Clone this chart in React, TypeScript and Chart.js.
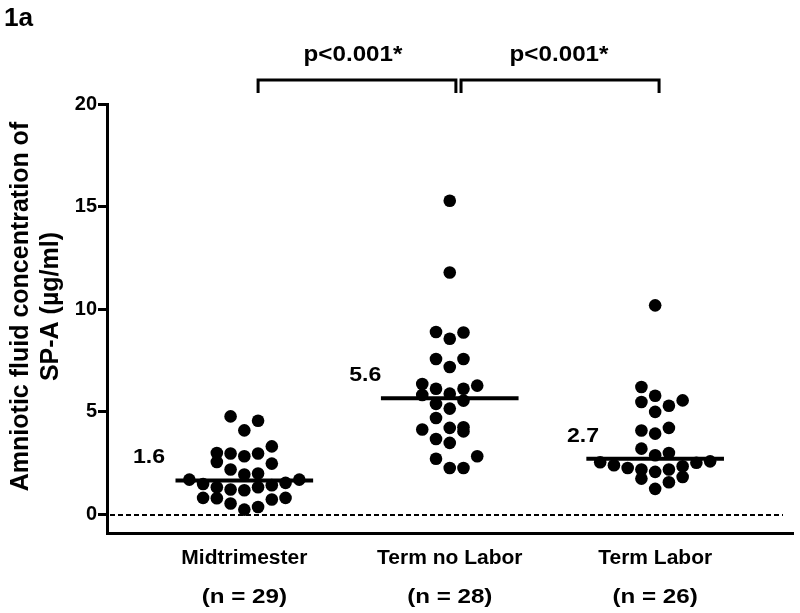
import React, { useEffect, useRef } from 'react';
import { Chart, registerables } from 'chart.js';

Chart.register(...registerables);

// ---------- data ----------
const CATEGORIES = ['Midtrimester', 'Term no Labor', 'Term Labor'];
const N_LABELS = ['(n = 29)', '(n = 28)', '(n = 26)'];
const MIDTRIMESTER = [4.78, 4.57, 4.10, 3.32, 3.0, 2.97, 2.84, 2.97, 2.56, 2.48, 2.19, 1.95, 2.0, 1.70, 1.70, 1.49, 1.33, 1.22, 1.18, 1.33, 1.43, 1.54, 0.81, 0.81, 0.54, 0.24, 0.37, 0.73, 0.79];
const TERM_NO_LABOR = [15.29, 11.79, 8.89, 8.56, 8.87, 7.58, 7.19, 7.58, 6.36, 6.13, 5.89, 6.13, 6.28, 5.82, 5.39, 5.55, 5.16, 4.70, 4.14, 4.22, 4.25, 4.05, 3.68, 3.49, 2.72, 2.84, 2.27, 2.27];
const TERM_LABOR = [10.19, 6.21, 5.79, 5.48, 5.56, 5.30, 5.0, 4.09, 3.94, 4.22, 3.21, 2.89, 3.0, 2.55, 2.40, 2.27, 2.19, 2.08, 2.19, 2.35, 2.52, 2.59, 1.75, 1.57, 1.83, 1.25];
const MEDIANS = [1.66, 5.66, 2.72];
const MEDIAN_LABELS = ['1.6', '5.6', '2.7'];
const Y_TICKS = [0, 5, 10, 15, 20];
const P_LABELS = ['p<0.001*', 'p<0.001*'];
const Y_TITLE = ['Amniotic fluid concentration of', 'SP-A (\u00B5g/ml)'];
const PANEL_LABEL = '1a';

// ---------- layout constants ----------
const FONT = "'Liberation Sans', Arial, Helvetica, sans-serif";
const X_MIN = 0.3315;
const X_MAX = 3.671;
const STEP = 0.0669;      // horizontal spacing between swarm columns (x units)
const ROW_H = 0.7;        // value band that forms one swarm row (y units)
const MEDIAN_HALF = 0.335;
const MEDIAN_LABEL_RIGHT = [0.614, 1.667, 2.727];
const BRACKETS = [[1.067, 2.030], [2.055, 3.019]];
const P_LABEL_X = [1.529, 2.532];

// Prism-like scatter-dot layout: rows of close values, spread alternately from the centre
function swarm(values: number[], center: number) {
  const sorted = [...values].sort((a, b) => a - b);
  const pts: { x: number; y: number }[] = [];
  let i = 0;
  let row = 0;
  while (i < sorted.length) {
    const start = sorted[i];
    const rowVals: number[] = [];
    while (i < sorted.length && sorted[i] < start + ROW_H) {
      rowVals.push(sorted[i]);
      i++;
    }
    const sign = row % 2 === 0 ? 1 : -1;
    rowVals.forEach((v, k) => {
      const mag = Math.ceil(k / 2);
      const side = k === 0 ? 0 : k % 2 === 1 ? sign : -sign;
      pts.push({ x: center + side * mag * STEP, y: v });
    });
    row++;
  }
  return pts;
}

function drawText(ctx: CanvasRenderingContext2D, s: string, x: number, y: number, size: number, align: CanvasTextAlign, sx = 1) {
  ctx.save();
  ctx.font = `bold ${size}px ${FONT}`;
  ctx.textAlign = align;
  ctx.textBaseline = 'alphabetic';
  ctx.fillStyle = '#000';
  ctx.translate(x, y);
  ctx.scale(sx, 1);
  ctx.fillText(s, 0, 0);
  ctx.restore();
}

const annotPlugin = {
  id: 'annot',
  beforeDatasetsDraw(chart: any) {
    const { ctx, chartArea, scales } = chart;
    const py = Math.round(scales.y.getPixelForValue(0));
    ctx.save();
    ctx.strokeStyle = '#000';
    ctx.lineWidth = 2;
    ctx.setLineDash([5, 3]);
    ctx.beginPath();
    ctx.moveTo(chartArea.left + 3, py);
    ctx.lineTo(chartArea.right - 10, py);
    ctx.stroke();
    ctx.restore();
  },
  afterDraw(chart: any) {
    const { ctx, chartArea, scales } = chart;
    const xs = scales.x;
    const ys = scales.y;

    // panel label
    drawText(ctx, PANEL_LABEL, 4, 26, 25, 'left', 1.05);

    // brackets + p-values
    const by = chartArea.top - 24;
    ctx.save();
    ctx.strokeStyle = '#000';
    ctx.lineWidth = 3;
    ctx.lineCap = 'butt';
    BRACKETS.forEach(([a, b]) => {
      const xa = xs.getPixelForValue(a);
      const xb = xs.getPixelForValue(b);
      ctx.beginPath();
      ctx.moveTo(xa, by + 13);
      ctx.lineTo(xa, by);
      ctx.lineTo(xb, by);
      ctx.lineTo(xb, by + 13);
      ctx.stroke();
    });
    ctx.restore();
    P_LABELS.forEach((p, i) => {
      drawText(ctx, p, xs.getPixelForValue(P_LABEL_X[i]), 61, 22, 'center', 1.1);
    });

    // median labels
    MEDIAN_LABELS.forEach((m, i) => {
      drawText(ctx, m, xs.getPixelForValue(MEDIAN_LABEL_RIGHT[i]), ys.getPixelForValue(MEDIANS[i]) - 17, 21, 'right', 1.1);
    });

    // category labels
    CATEGORIES.forEach((c, i) => {
      const cx = xs.getPixelForValue(i + 1);
      drawText(ctx, c, cx, chartArea.bottom + 31, 20, 'center', 1.05);
      drawText(ctx, N_LABELS[i], cx, chartArea.bottom + 70, 21, 'center', 1.15);
    });

    // y axis title (rotated)
    const cy = (chartArea.top + chartArea.bottom) / 2 - 12;
    const baselines = [28, 58];
    Y_TITLE.forEach((t, i) => {
      ctx.save();
      ctx.font = `bold 25px ${FONT}`;
      ctx.fillStyle = '#000';
      ctx.textAlign = 'center';
      ctx.textBaseline = 'alphabetic';
      ctx.translate(baselines[i], cy);
      ctx.rotate(-Math.PI / 2);
      ctx.fillText(t, 0, 0);
      ctx.restore();
    });
  },
};

export default function App() {
  const ref = useRef<HTMLCanvasElement | null>(null);

  useEffect(() => {
    if (!ref.current) return;
    const groups = [MIDTRIMESTER, TERM_NO_LABOR, TERM_LABOR];
    const dotSets = groups.map((g, i) => ({
      label: CATEGORIES[i],
      data: swarm(g, i + 1),
      backgroundColor: '#000',
      borderWidth: 0,
      pointRadius: 6.3,
      pointHoverRadius: 6.3,
      showLine: false,
      order: 2,
    }));
    const medianSets = MEDIANS.map((m, i) => ({
      label: CATEGORIES[i] + ' median',
      data: [
        { x: i + 1 - MEDIAN_HALF, y: m },
        { x: i + 1 + MEDIAN_HALF, y: m },
      ],
      borderColor: '#000',
      borderWidth: 4,
      pointRadius: 0,
      showLine: true,
      order: 1,
    }));

    const chart = new Chart(ref.current, {
      type: 'scatter',
      data: { datasets: [...medianSets, ...dotSets] as any },
      options: {
        animation: false,
        responsive: false,
        events: [],
        layout: { padding: { top: 104, right: 7, left: 0, bottom: 0 } },
        plugins: { legend: { display: false }, tooltip: { enabled: false } },
        scales: {
          x: {
            type: 'linear',
            min: X_MIN,
            max: X_MAX,
            ticks: { display: false },
            grid: { display: false },
            border: { display: true, width: 3, color: '#000' },
            afterFit: (s: any) => { s.height = 80; },
          },
          y: {
            type: 'linear',
            min: -0.9,
            max: 20,
            afterBuildTicks: (s: any) => { s.ticks = Y_TICKS.map((v) => ({ value: v })); },
            ticks: {
              color: '#000',
              padding: 1,
              font: { family: FONT, size: 20, weight: 'bold' },
            },
            grid: {
              display: true,
              drawOnChartArea: false,
              drawTicks: true,
              tickLength: 9,
              tickWidth: 3,
              tickColor: '#000',
            },
            border: { display: true, width: 3, color: '#000' },
            afterFit: (s: any) => { s.width = 107; },
          },
        },
      } as any,
      plugins: [annotPlugin],
    });
    return () => chart.destroy();
  }, []);

  return (
    <div style={{ position: 'fixed', left: 0, top: 0, width: 800, height: 613, background: '#fff' }}>
      <canvas ref={ref} width={800} height={613} style={{ display: 'block' }} />
    </div>
  );
}
